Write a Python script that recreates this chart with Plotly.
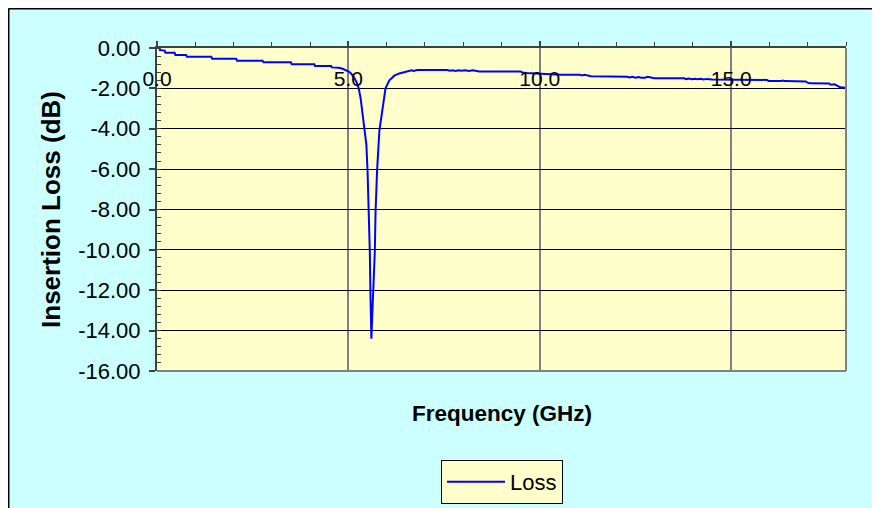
import plotly.graph_objects as go

# ---- data ----
FREQ_GHZ = [0.05, 0.20, 0.22, 0.46, 0.48, 0.76, 0.78, 1.42, 1.44, 2.07, 2.09, 2.76, 2.78, 3.50,
            3.52, 4.11, 4.13, 4.55, 4.57, 4.75, 4.85, 4.94, 5.02, 5.07, 5.12, 5.16, 5.22, 5.27,
            5.32, 5.37, 5.44, 5.47, 5.50, 5.54, 5.56, 5.575, 5.585, 5.60, 5.62, 5.65, 5.69, 5.71,
            5.75, 5.81, 5.87, 5.97, 6.07, 6.20, 6.33, 6.50, 6.60, 6.65, 6.70, 6.75, 6.80, 7.58,
            7.65, 7.72, 7.80, 7.88, 7.95, 8.05, 8.15, 8.25, 8.35, 8.42, 9.50, 9.55, 9.65, 10.00,
            10.55, 11.05, 11.10, 11.17, 11.25, 11.34, 11.81, 12.28, 12.35, 12.42, 12.50, 12.58,
            12.65, 12.75, 12.82, 12.90, 12.99, 13.77, 13.82, 13.90, 13.97, 14.05, 14.12, 14.20,
            14.28, 14.36, 14.45, 14.50, 15.94, 15.98, 16.30, 16.35, 16.40, 16.95, 17.00, 17.04,
            17.56, 17.60, 17.70, 17.80, 17.85, 18.00]
LOSS_DB = [-0.10, -0.13, -0.23, -0.23, -0.35, -0.35, -0.43, -0.43, -0.53, -0.53, -0.63, -0.63, -0.71, -0.71,
           -0.81, -0.81, -0.89, -0.89, -0.96, -0.98, -1.03, -1.09, -1.18, -1.26, -1.38, -1.50, -1.72, -2.00,
           -2.50, -3.24, -4.09, -4.80, -6.05, -8.10, -10.10, -12.10, -13.60, -14.40, -13.40, -12.10, -10.10, -8.10,
           -6.05, -4.09, -3.20, -2.00, -1.60, -1.37, -1.26, -1.17, -1.13, -1.10, -1.14, -1.10, -1.09, -1.09,
           -1.13, -1.10, -1.14, -1.10, -1.13, -1.10, -1.14, -1.10, -1.14, -1.16, -1.17, -1.21, -1.24, -1.27,
           -1.32, -1.32, -1.36, -1.33, -1.37, -1.40, -1.41, -1.42, -1.46, -1.43, -1.47, -1.44,
           -1.47, -1.47, -1.43, -1.47, -1.50, -1.50, -1.54, -1.51, -1.55, -1.52, -1.55, -1.52,
           -1.56, -1.53, -1.56, -1.56, -1.58, -1.64, -1.64, -1.61, -1.64, -1.66, -1.72, -1.75,
           -1.76, -1.82, -1.80, -1.88, -1.95, -1.97]

X_TICK_VALUES = [0, 5, 10, 15]
X_TICK_LABELS = ["0.0", "5.0", "10.0", "15.0"]
Y_TICK_VALUES = [0, -2, -4, -6, -8, -10, -12, -14, -16]
Y_TICK_LABELS = ["0.00", "-2.00", "-4.00", "-6.00", "-8.00", "-10.00", "-12.00", "-14.00", "-16.00"]

SERIES_NAME = "Loss"
X_TITLE = "Frequency (GHz)"
Y_TITLE = "Insertion Loss (dB)"

# ---- geometry (the page body adds an 8px offset) ----
OFF = 8
W, H = 872, 500
ML, MR, MT, MB = 149, 34, 40, 137
PW, PH = W - ML - MR, H - MT - MB


def px_x(p):
    """page x pixel -> paper fraction"""
    return (p - OFF - ML) / PW


def px_y(p):
    """page y pixel -> paper fraction"""
    return (H - MB - (p - OFF)) / PH


FONT = "Liberation Sans, Arial, sans-serif"

fig = go.Figure()
fig.add_trace(go.Scatter(x=FREQ_GHZ, y=LOSS_DB, mode="lines", name=SERIES_NAME,
                         line=dict(color="#0000FF", width=2)))

fig.update_layout(
    width=W, height=H,
    margin=dict(l=ML, r=MR, t=MT, b=MB, autoexpand=False),
    paper_bgcolor="#CCFFFF",
    plot_bgcolor="#FFFFCC",
    font=dict(family=FONT, color="black", size=20),
    showlegend=True,
    legend=dict(x=px_x(502), xanchor="center", y=px_y(460), yanchor="top",
                bgcolor="#FFFFCC", bordercolor="black", borderwidth=1,
                itemwidth=58,
                font=dict(size=22, family=FONT)),
    xaxis=dict(range=[0, 18], side="top", tickmode="array",
               tickvals=X_TICK_VALUES, ticktext=X_TICK_LABELS,
               ticks="outside", ticklen=5, tickwidth=1.5, tickcolor="#404040",
               showline=True, linecolor="#404040", linewidth=2,
               showgrid=True, gridcolor="#808080", gridwidth=1.5,
               zeroline=False,
               ticklabelposition="inside", ticklabeloverflow="allow",
               ticklabelstandoff=25,
               tickfont=dict(size=21, family=FONT, color="black"),
               minor=dict(tickmode="linear", tick0=0, dtick=1, ticks="outside",
                          ticklen=4, tickwidth=1, tickcolor="#404040", showgrid=False)),
    yaxis=dict(range=[-16, 0], tickmode="array",
               tickvals=Y_TICK_VALUES, ticktext=Y_TICK_LABELS,
               ticks="outside", ticklen=6, tickwidth=1.5, tickcolor="#404040",
               showline=True, linecolor="#404040", linewidth=2,
               showgrid=True, gridcolor="black", gridwidth=1,
               zeroline=False,
               ticklabelstandoff=4,
               tickfont=dict(size=22, family=FONT, color="black"),
               title=dict(text=Y_TITLE, standoff=10,
                          font=dict(size=26, family=FONT, color="black", weight="bold")),
               minor=dict(tickmode="linear", tick0=0, dtick=0.4, ticks="inside",
                          ticklen=4, tickwidth=1, tickcolor="#404040", showgrid=False)),
)

fig.add_annotation(text=X_TITLE, xref="paper", yref="paper", x=px_x(502), y=px_y(413),
                   xanchor="center", yanchor="middle", showarrow=False,
                   font=dict(size=22.5, family=FONT, color="black", weight="bold"))

# black chart frame (left and top edges)
fig.add_shape(type="line", xref="paper", yref="paper", x0=px_x(OFF + 0.5), x1=px_x(OFF + W),
              y0=px_y(OFF + 0.5), y1=px_y(OFF + 0.5), line=dict(color="black", width=2), layer="above")
fig.add_shape(type="line", xref="paper", yref="paper", x0=px_x(OFF + 0.5), x1=px_x(OFF + 0.5),
              y0=px_y(OFF + 0.5), y1=px_y(OFF + H), line=dict(color="black", width=2), layer="above")
# grey plot-area border (bottom and right)
fig.add_shape(type="line", xref="paper", yref="paper", x0=0, x1=1, y0=0, y1=0,
              line=dict(color="#808080", width=2), layer="above")
fig.add_shape(type="line", xref="paper", yref="paper", x0=1, x1=1, y0=0, y1=1,
              line=dict(color="#808080", width=2), layer="above")

fig.write_html("out.html")
